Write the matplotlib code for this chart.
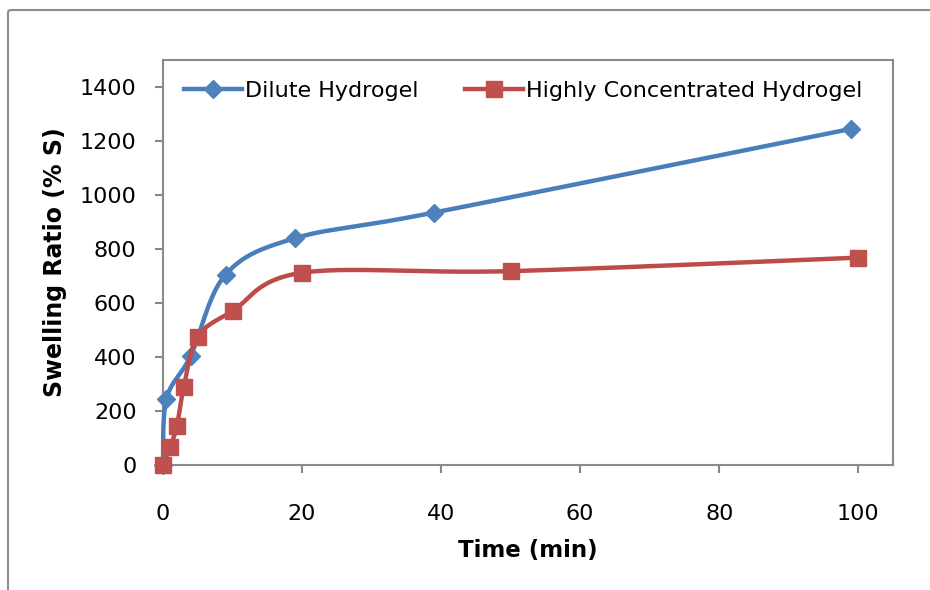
import numpy as np
import matplotlib
matplotlib.use("Agg")
import matplotlib.pyplot as plt
from matplotlib.patches import FancyBboxPatch
from matplotlib.lines import Line2D

# Swelling data (time in minutes, swelling ratio in %)
dilute_time = [0, 0.5, 4, 9, 19, 39, 99]
dilute_swelling = [0, 245, 405, 705, 840, 935, 1245]

conc_time = [0, 1, 2, 3, 5, 10, 20, 50, 100]
conc_swelling = [0, 65, 145, 290, 475, 570, 712, 718, 768]

series_names = ["Dilute Hydrogel", "Highly Concentrated Hydrogel"]
x_ticks = [0, 20, 40, 60, 80, 100]
y_ticks = [0, 200, 400, 600, 800, 1000, 1200, 1400]


def smooth(xs, ys, n=40):
    """Catmull-Rom curve through the points, as spreadsheet smoothed lines do."""
    x = np.asarray(xs, float)
    y = np.asarray(ys, float)
    px = np.concatenate([[x[0]], x, [x[-1]]])
    py = np.concatenate([[y[0]], y, [y[-1]]])
    out_x, out_y = [], []
    t = np.linspace(0, 1, n)
    for i in range(1, len(px) - 2):
        p0 = np.array([px[i], py[i]])
        p3 = np.array([px[i + 1], py[i + 1]])
        p1 = p0 + (p3 - np.array([px[i - 1], py[i - 1]])) / 6.0
        p2 = p3 - (np.array([px[i + 2], py[i + 2]]) - p0) / 6.0
        b = ((1 - t) ** 3)[:, None] * p0 + (3 * (1 - t) ** 2 * t)[:, None] * p1 \
            + (3 * (1 - t) * t ** 2)[:, None] * p2 + (t ** 3)[:, None] * p3
        out_x.extend(b[:, 0])
        out_y.extend(b[:, 1])
    return np.array(out_x), np.array(out_y)


plt.rcParams["font.family"] = ["DejaVu Sans"]

fig = plt.figure(figsize=(9.3, 5.9), dpi=100)
W, H = 930, 590

# outer chart frame
frame = FancyBboxPatch((8 / W, -0.05), 1.1, (590 - 10) / H + 0.05,
                       boxstyle="round,pad=0,rounding_size=0.004",
                       transform=fig.transFigure, fill=False,
                       edgecolor="#8c8c8c", linewidth=1.5)
fig.patches.append(frame)

ax = fig.add_axes([163 / W, (H - 465) / H, (893 - 163) / W, (465 - 60) / H])

blue_line, blue_marker = "#4A7EBB", "#4F81BD"
red_line, red_marker = "#BE4B48", "#C0504D"
LW = 3.2

sx, sy = smooth(dilute_time, dilute_swelling)
ax.plot(sx, sy, color=blue_line, lw=LW, solid_capstyle="round", zorder=3,
        clip_on=False)
ax.plot(dilute_time, dilute_swelling, ls="none", marker="D", ms=9.5,
        color=blue_marker, mec=blue_marker, zorder=4, clip_on=False)

rx, ry = smooth(conc_time, conc_swelling)
ax.plot(rx, ry, color=red_line, lw=LW, solid_capstyle="round", zorder=5,
        clip_on=False)
ax.plot(conc_time, conc_swelling, ls="none", marker="s", ms=11,
        color=red_marker, mec=red_marker, zorder=6, clip_on=False)

ax.set_xlim(0, 105)
ax.set_ylim(0, 1500)
ax.set_xticks(x_ticks)
ax.set_yticks(y_ticks)
ax.set_xticklabels([str(v) for v in x_ticks], fontsize=16)
ax.set_yticklabels([str(v) for v in y_ticks], fontsize=16)
ax.tick_params(axis="both", direction="out", length=6, width=1.5,
               color="#868686")
ax.tick_params(axis="x", pad=22)
ax.tick_params(axis="y", pad=13)
for s in ax.spines.values():
    s.set_color("#8a8a8a")
    s.set_linewidth(1.5)

ax.set_xlabel("Time (min)", fontsize=16.5, fontweight="bold", labelpad=11)
ax.set_ylabel("Swelling Ratio (% S)", fontsize=17, fontweight="bold",
              labelpad=9)

handles = [
    Line2D([], [], color=blue_line, lw=LW, marker="D", ms=9.5,
           mfc=blue_marker, mec=blue_marker),
    Line2D([], [], color=red_line, lw=LW, marker="s", ms=11,
           mfc=red_marker, mec=red_marker),
]
ax.legend(handles, series_names, ncol=2, loc="upper left",
          bbox_to_anchor=(0.0, 1.0), frameon=False, fontsize=16,
          handlelength=2.6, handletextpad=0.15, columnspacing=2.1,
          borderaxespad=0.55)

fig.savefig("out.png", dpi=100)
